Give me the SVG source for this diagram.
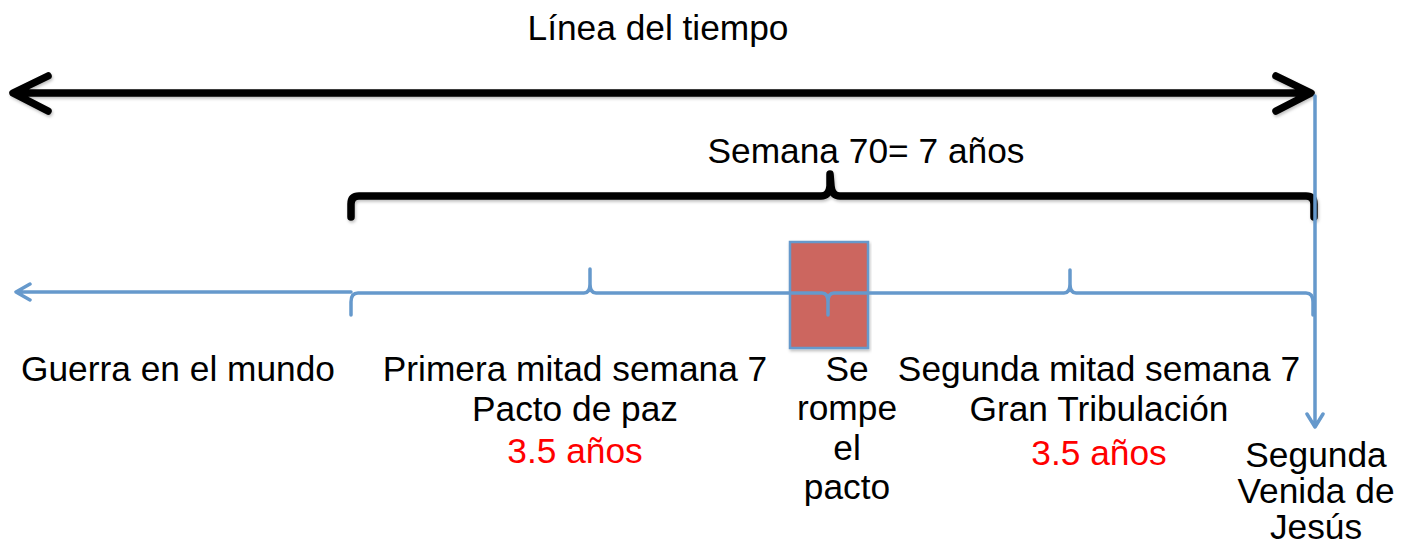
<svg xmlns="http://www.w3.org/2000/svg" width="1404" height="548" viewBox="0 0 1404 548">
<style>
text{font-family:"Liberation Sans",Arial,sans-serif;font-size:35.3px;fill:#000;text-anchor:middle}
.red{fill:#ff0000}
.blk{fill:none;stroke:#000;stroke-width:7.5;stroke-linecap:round;stroke-linejoin:round}
.blu{fill:none;stroke:#6699cc;stroke-width:3.5;stroke-linecap:round;stroke-linejoin:round}
</style>
<defs>
<filter id="sh" x="-5%" y="-50%" width="110%" height="200%">
<feDropShadow dx="1" dy="2" stdDeviation="1.5" flood-color="#000" flood-opacity="0.25"/>
</filter>
</defs>
<rect width="1404" height="548" fill="#fff"/>
<g id="title"><text x="658" y="40">Línea del tiempo</text></g>
<g id="box" filter="url(#sh)">
<rect x="790" y="242" width="78" height="106" fill="#cc665f" stroke="#6699cc" stroke-width="2.5"/>
</g>
<g id="connectors">
<g id="timeline-black" filter="url(#sh)">
<path class="blk" d="M14 93 H1310 M48 76 L13 93 L48 111 M1276 76 L1311 93 L1276 111"/>
</g>
<g id="brace-black" filter="url(#sh)">
<path class="blk" d="M351 217 V204 Q351 196 359 196 H821 Q829 196 830 186 L830 174 L831 186 Q832 196 840 196 H1306 Q1314 196 1314 204 V217"/>
</g>
<g id="timeline-blue">
<path class="blu" d="M16 292 H351 M30 284 L16 292 L30 300"/>
<path class="blu" d="M351 315 V302 Q351 293 358 293 H584 Q590 293 590 284 V269 V284 Q590 293 596 293 H822 Q828 293 828 302 V315 V302 Q828 293 834 293 H1064 Q1070 293 1070 284 V270 V284 Q1070 293 1076 293 H1306 Q1313 293 1313 302 V315"/>
<path class="blu" d="M1315 96 V427 M1307 414 L1315 427 L1323 414"/>
</g>
</g>
<g id="brace-label"><text x="866" y="163">Semana 70= 7 años</text></g>
<g id="guerra"><text x="178" y="381">Guerra en el mundo</text></g>
<g id="primera">
<text x="575" y="381">Primera mitad semana 7</text>
<text x="575" y="421">Pacto de paz</text>
<text x="575" y="463" class="red">3.5 años</text>
</g>
<g id="rompe">
<text x="847" y="381">Se</text>
<text x="847" y="420">rompe</text>
<text x="847" y="460">el</text>
<text x="847" y="499">pacto</text>
</g>
<g id="segunda">
<text x="1099" y="381">Segunda mitad semana 7</text>
<text x="1099" y="421">Gran Tribulación</text>
<text x="1099" y="465" class="red">3.5 años</text>
</g>
<g id="venida">
<text x="1316" y="467">Segunda</text>
<text x="1316" y="503">Venida de</text>
<text x="1316" y="539">Jesús</text>
</g>
</svg>
